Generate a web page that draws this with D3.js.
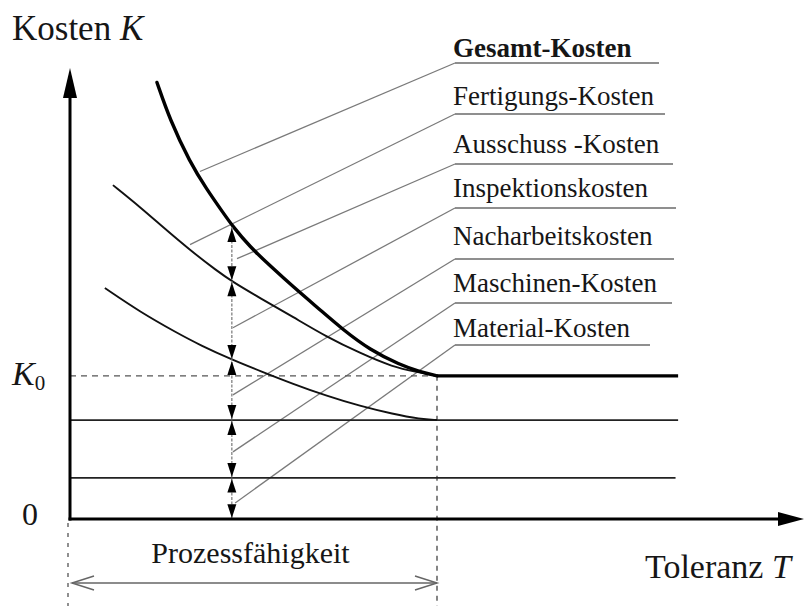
<!DOCTYPE html>
<html><head><meta charset="utf-8">
<script src="https://cdn.jsdelivr.net/npm/d3@7"></script>
<style>
body{margin:0;background:#fff}
svg{display:block;background:#fff}
text{font-family:"Liberation Serif","Times New Roman",serif;fill:#161616}
</style>
</head><body>
<svg id="chart" width="805" height="606"></svg>
<script>
// ---- data (Toleranz T, Kosten K; K0 = 10, Prozessfähigkeit limit T = 10) ----
const totalT = [2.37,2.72,3.27,3.73,4.17,4.44,4.90,5.45,6.08,6.81,7.44,8.17,8.99,9.54,10.0];
const totalK = [30.49,27.90,24.90,23.01,21.40,20.42,19.02,17.69,16.22,14.62,13.22,11.82,10.77,10.28,10.0];
const upperT = [1.17,1.91,2.53,3.27,4.01,4.44,5.18,6.08,7.00,7.90,8.80,9.46,10.0];
const upperK = [23.32,21.79,20.39,18.78,17.32,16.55,15.43,14.11,12.71,11.59,10.61,10.27,10.0];
const lowerT = [0.95,1.91,2.92,3.54,4.44,5.18,6.08,7.00,7.90,8.80,9.54,10.0];
const lowerK = [16.13,14.46,12.99,12.15,11.10,10.34,9.43,8.59,7.89,7.33,6.98,6.91];
const K0 = 10;
const Tcap = 10;
const flatLevels = [6.91, 2.87];
const flatEndT = [16.57, 16.50];
const totalFlatEndT = 16.57;
const arrowT = 4.41;
const arrowStops = [20.4, 16.6, 11.1, 6.91, 2.87, 0];
const labelNames = ["Gesamt-Kosten","Fertigungs-Kosten","Ausschuss -Kosten","Inspektionskosten","Nacharbeitskosten","Maschinen-Kosten","Material-Kosten"];
const leaderT = [3.54,3.27,4.55,4.44,4.44,4.44,4.50];
const leaderK = [24.27,19.16,18.18,13.36,8.67,4.69,1.12];

// ---- layout ----
const svg = d3.select("#chart");
const x = d3.scaleLinear().domain([0, 20]).range([70, 804]);
const y = d3.scaleLinear().domain([0, 31.5]).range([519, 68]);
const labelX = 453, lineX = 455;
const labelBase = [57,105,153,197,245,292,337];
const underY = [63,114,164,208,259,303,345];
const underEnd = [659,665,673,676,674,672,650];

const line = d3.line().x(d => x(d[0])).y(d => y(d[1])).curve(d3.curveBasis);
const zip = (a, b) => a.map((v, i) => [v, b[i]]);

// labels + leader lines
const g = svg.append("g");
labelNames.forEach((name, i) => {
  svg.append("text").attr("x", labelX).attr("y", labelBase[i])
    .attr("font-size", 27).attr("font-weight", i === 0 ? "bold" : "normal").text(name);
  g.append("line").attr("x1", lineX).attr("x2", underEnd[i])
    .attr("y1", underY[i]).attr("y2", underY[i]).attr("stroke", "#6a6a6a").attr("stroke-width", 1.4);
  g.append("line").attr("x1", lineX).attr("y1", underY[i])
    .attr("x2", x(leaderT[i])).attr("y2", y(leaderK[i]))
    .attr("stroke", "#7a7a7a").attr("stroke-width", 1.3);
});

// dashed guides
svg.append("line").attr("x1", x(0)).attr("x2", x(Tcap)).attr("y1", y(K0)).attr("y2", y(K0))
  .attr("stroke", "#555").attr("stroke-width", 1.3).attr("stroke-dasharray", "6,5");
svg.append("line").attr("x1", x(Tcap)).attr("x2", x(Tcap)).attr("y1", y(K0)).attr("y2", 606)
  .attr("stroke", "#444").attr("stroke-width", 1.3).attr("stroke-dasharray", "5,5");
svg.append("line").attr("x1", x(0) - 2).attr("x2", x(0) - 2).attr("y1", y(0) + 4).attr("y2", 606)
  .attr("stroke", "#555").attr("stroke-width", 1.3).attr("stroke-dasharray", "4,6");

// flat lines
flatLevels.forEach((k, i) => {
  svg.append("line").attr("x1", x(0)).attr("x2", x(flatEndT[i])).attr("y1", y(k)).attr("y2", y(k))
    .attr("stroke", "#222").attr("stroke-width", 1.8);
});

// curves
svg.append("path").attr("d", line(zip(lowerT, lowerK))).attr("fill", "none").attr("stroke", "#111").attr("stroke-width", 1.9);
svg.append("path").attr("d", line(zip(upperT, upperK))).attr("fill", "none").attr("stroke", "#111").attr("stroke-width", 1.9);
svg.append("path").attr("d", line(zip(totalT, totalK))).attr("fill", "none")
  .attr("stroke", "#000").attr("stroke-width", 3.4).attr("stroke-linecap", "round");
svg.append("line").attr("x1", x(Tcap)).attr("x2", x(totalFlatEndT)).attr("y1", y(K0)).attr("y2", y(K0))
  .attr("stroke", "#000").attr("stroke-width", 3.4);

// vertical cost arrows
const ax = x(arrowT);
svg.append("line").attr("x1", ax).attr("x2", ax).attr("y1", y(arrowStops[0])).attr("y2", y(0))
  .attr("stroke", "#777").attr("stroke-width", 1.2).attr("stroke-dasharray", "3,1.5");
const tri = (px, tip, dir, len, hw) => `M${px},${tip}L${px - hw},${tip - dir * len}L${px + hw},${tip - dir * len}Z`;
for (let i = 0; i < arrowStops.length - 1; i++) {
  const top = y(arrowStops[i]), bot = y(arrowStops[i + 1]);
  const len = Math.min(14, (bot - top) / 3);
  svg.append("path").attr("d", tri(ax, top + 1, -1, len, 4.5)).attr("fill", "#000");
  svg.append("path").attr("d", tri(ax, bot - 1, 1, len, 4.5)).attr("fill", "#000");
}

// axes with arrowheads
svg.append("line").attr("x1", x(0)).attr("x2", x(0)).attr("y1", y(0) + 1.5).attr("y2", 96)
  .attr("stroke", "#000").attr("stroke-width", 3);
svg.append("path").attr("d", `M${x(0)},${y(31.5)}L${x(0) - 7},98L${x(0) + 7},98Z`).attr("fill", "#000");
svg.append("line").attr("x1", x(0) - 1.5).attr("x2", 780).attr("y1", y(0)).attr("y2", y(0))
  .attr("stroke", "#000").attr("stroke-width", 3);
svg.append("path").attr("d", `M${x(20)},${y(0)}L778,${y(0) - 7}L778,${y(0) + 7}Z`).attr("fill", "#000");

// axis texts
const kt = svg.append("text").attr("x", 12).attr("y", 40).attr("font-size", 35);
kt.append("tspan").text("Kosten ");
kt.append("tspan").attr("font-style", "italic").text("K");
const tt = svg.append("text").attr("x", 645).attr("y", 578).attr("font-size", 34);
tt.append("tspan").text("Toleranz ");
tt.append("tspan").attr("font-style", "italic").text("T");
const k0 = svg.append("text").attr("x", 12).attr("y", y(K0) + 9).attr("font-size", 34);
k0.append("tspan").attr("font-style", "italic").text("K");
k0.append("tspan").attr("font-size", 21).attr("dy", 5).text("0");
svg.append("text").attr("x", 22).attr("y", y(0) + 6).attr("font-size", 32).text("0");

// Prozessfähigkeit
svg.append("text").attr("x", (x(0) + x(Tcap)) / 2 - 3).attr("y", 563).attr("text-anchor", "middle")
  .attr("font-size", 30).text("Prozessfähigkeit");
const py = 583, pl = x(0) + 2, pr = x(Tcap);
svg.append("line").attr("x1", pl).attr("x2", pr).attr("y1", py).attr("y2", py).attr("stroke", "#666").attr("stroke-width", 1.5);
svg.append("path").attr("d", `M${pl + 22},${py - 7}L${pl},${py}L${pl + 22},${py + 7}`).attr("fill", "none").attr("stroke", "#666").attr("stroke-width", 1.5);
svg.append("path").attr("d", `M${pr - 22},${py - 7}L${pr},${py}L${pr - 22},${py + 7}`).attr("fill", "none").attr("stroke", "#666").attr("stroke-width", 1.5);
</script>
</body></html>
